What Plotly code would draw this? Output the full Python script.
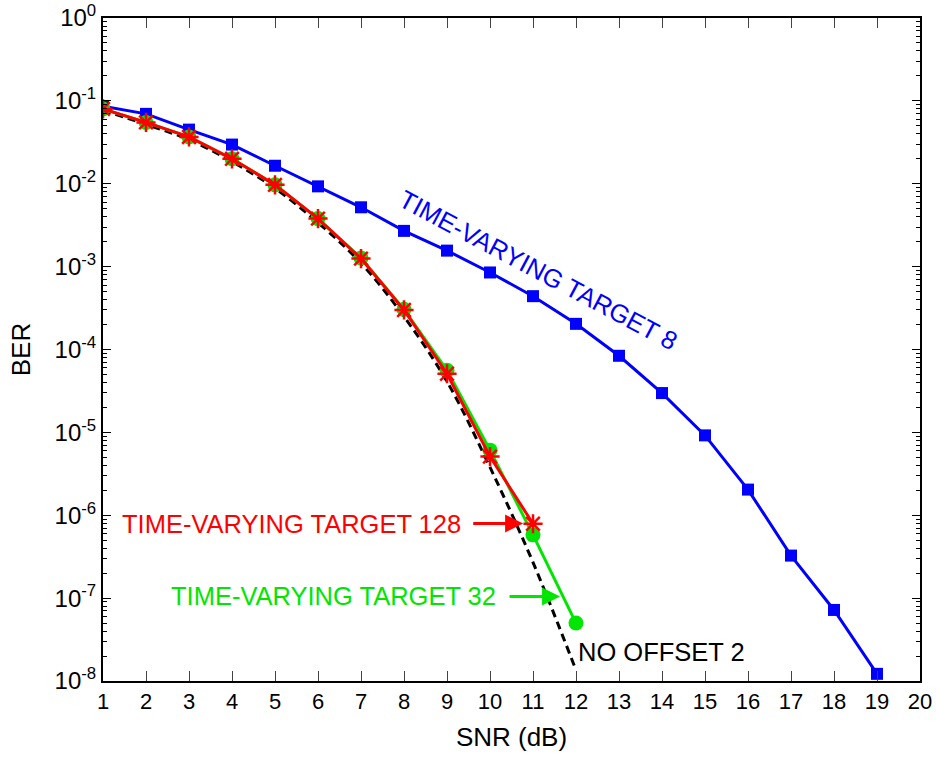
import plotly.graph_objects as go

# ---------------- data ----------------
snr_blue = [1, 2, 3, 4, 5, 6, 7, 8, 9, 10, 11, 12, 13, 14, 15, 16, 17, 18, 19]
ber_tv8 = [0.086, 0.0697, 0.045, 0.0297, 0.0165, 0.0093, 0.0052, 0.0027, 0.00156,
           0.00085, 4.4e-4, 2.04e-4, 8.4e-5, 2.98e-5, 9.2e-6, 2.04e-6, 3.26e-7,
           7.2e-8, 1.22e-8]

snr_green = [1, 2, 3, 4, 5, 6, 7, 8, 9, 10, 11, 12]
ber_tv32 = [0.080, 0.055, 0.0367, 0.020, 0.0097, 0.0038, 0.00127, 3.05e-4,
            5.6e-5, 6.1e-6, 5.8e-7, 5.0e-8]

snr_red = [1, 2, 3, 4, 5, 6, 7, 8, 9, 10, 11]
ber_tv128 = [0.080, 0.055, 0.0367, 0.020, 0.0097, 0.0038, 0.00125, 3.0e-4,
             5.1e-5, 5.1e-6, 7.9e-7]

snr_black = [1, 2, 3, 4, 5, 6, 7, 8, 9, 10, 11, 12]
ber_nooffset = [0.077, 0.052, 0.034, 0.0185, 0.0088, 0.0034, 0.0011, 2.5e-4,
                4.1e-5, 3.8e-6, 2.7e-7, 1.35e-8]

x_ticks = list(range(1, 21))
y_tick_exponents = [0, -1, -2, -3, -4, -5, -6, -7, -8]
y_tick_labels = ["10<sup>%d</sup>" % e for e in y_tick_exponents]

BLUE = "#0000FF"
RED = "#FF0000"
GREEN = "#00E600"
FONT = "Liberation Sans, Arial, sans-serif"

fig = go.Figure()

fig.add_trace(go.Scatter(
    x=snr_blue, y=ber_tv8, mode="lines+markers",
    line=dict(color=BLUE, width=3),
    marker=dict(symbol="square", size=12, color=BLUE),
    name="TIME-VARYING TARGET 8"))

fig.add_trace(go.Scatter(
    x=snr_black, y=ber_nooffset, mode="lines",
    line=dict(color="black", width=3, dash="8px,5px", shape="spline"),
    name="NO OFFSET 2"))

fig.add_trace(go.Scatter(
    x=snr_green, y=ber_tv32, mode="lines+markers",
    line=dict(color=GREEN, width=3),
    marker=dict(symbol="circle", size=15, color=GREEN),
    name="TIME-VARYING TARGET 32"))

fig.add_trace(go.Scatter(
    x=snr_red, y=ber_tv128, mode="lines+markers",
    line=dict(color=RED, width=3),
    marker=dict(symbol="asterisk-open", size=16, color=RED,
                line=dict(color=RED, width=2.5)),
    name="TIME-VARYING TARGET 128"))

minor_vals = [m * 10.0 ** e for e in range(-8, 0) for m in range(2, 10)]

fig.update_xaxes(
    range=[1, 20], tickvals=x_ticks, ticktext=[str(v) for v in x_ticks],
    ticks="inside", ticklen=10, tickwidth=1.2, tickcolor="#444",
    showline=True, linecolor="black", linewidth=2, mirror="allticks",
    showgrid=False, zeroline=False, automargin=False,
    tickfont=dict(family=FONT, size=22, color="black"),
    title=dict(text="SNR (dB)", font=dict(family=FONT, size=26, color="black"),
               standoff=14),
)

fig.update_yaxes(
    type="log", range=[-8, 0],
    tickvals=[10.0 ** e for e in y_tick_exponents], ticktext=y_tick_labels,
    ticks="inside", ticklen=8, tickwidth=1.2, tickcolor="black",
    minor=dict(tickvals=minor_vals, ticks="inside", ticklen=4, tickwidth=1,
               tickcolor="black", showgrid=False),
    showline=True, linecolor="black", linewidth=2, mirror="allticks",
    showgrid=False, zeroline=False, automargin=False,
    tickfont=dict(family=FONT, size=24, color="black"),
    title=dict(text="BER", font=dict(family=FONT, size=26, color="black"),
               standoff=16),
)

annotations = [
    dict(x=11.12, y=-3.04, text="TIME-VARYING TARGET 8", showarrow=False,
         textangle=28, font=dict(family=FONT, size=25.5, color=BLUE)),
    dict(x=9.37, y=-6.10, text="TIME-VARYING TARGET 128", showarrow=False,
         xanchor="right", yanchor="middle",
         font=dict(family=FONT, size=25.5, color=RED)),
    dict(x=10.77, y=-6.10, ax=9.575, ay=-6.10, axref="x", ayref="y",
         text="", showarrow=True, arrowhead=2, arrowsize=1.2, arrowwidth=3,
         arrowcolor=RED, standoff=0, startstandoff=0),
    dict(x=10.19, y=-6.98, text="TIME-VARYING TARGET 32", showarrow=False,
         xanchor="right", yanchor="middle",
         font=dict(family=FONT, size=25.5, color=GREEN)),
    dict(x=11.63, y=-6.98, ax=10.42, ay=-6.98, axref="x", ayref="y",
         text="", showarrow=True, arrowhead=2, arrowsize=1.2, arrowwidth=3,
         arrowcolor=GREEN, standoff=0, startstandoff=0),
    dict(x=12.0, y=-7.65, text="NO OFFSET 2", showarrow=False,
         xanchor="left", yanchor="middle",
         font=dict(family=FONT, size=25.5, color="black")),
]

fig.update_layout(
    width=936, height=757,
    margin=dict(l=103, r=16, t=18, b=76),
    plot_bgcolor="white", paper_bgcolor="white",
    showlegend=False,
    annotations=annotations,
    font=dict(family=FONT),
)

fig.write_html("out.html")
